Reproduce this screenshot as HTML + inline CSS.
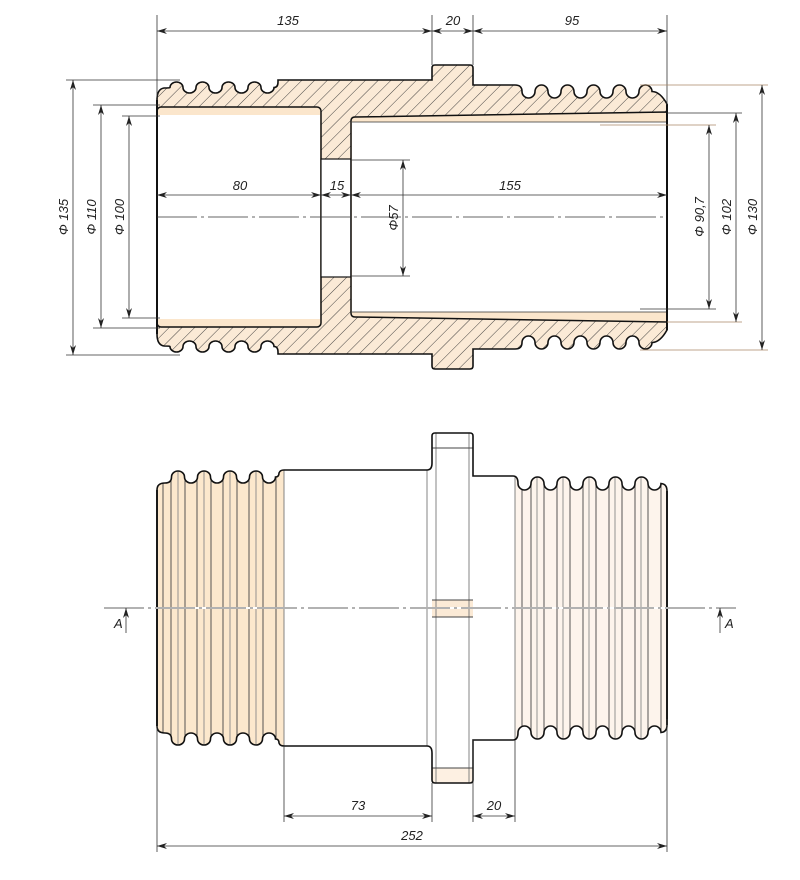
<!DOCTYPE html>
<html><head><meta charset="utf-8"><style>
html,body{margin:0;padding:0;background:#fff}
svg{display:block}
text{font-family:"Liberation Sans",sans-serif;font-style:italic;font-size:13px;fill:#222}
</style></head><body>
<svg width="800" height="880" viewBox="0 0 800 880" xmlns="http://www.w3.org/2000/svg">
<defs>
<pattern id="h" width="9" height="9" patternUnits="userSpaceOnUse" patternTransform="rotate(45)">
<line x1="0" y1="0" x2="0" y2="9" stroke="#333" stroke-width="0.9"/></pattern>
<marker id="a" viewBox="0 0 10 6" refX="10" refY="3" markerWidth="10" markerHeight="6" orient="auto-start-reverse" markerUnits="userSpaceOnUse">
<path d="M0,0 L10,3 L0,6 L3,3 Z" fill="#222"/></marker>
<path id="topH" d="M157,217 L157,100 Q157,89 164,88 Q170,88 170,87.5 a6.5,5.5 0 0 1 13,0 a6.5,5.5 0 0 0 13,0 a6.5,5.5 0 0 1 13,0 a6.5,5.5 0 0 0 13,0 a6.5,5.5 0 0 1 13,0 a6.5,5.5 0 0 0 13,0 a6.5,5.5 0 0 1 13,0 a6.5,5.5 0 0 0 13,0 Q278,87.5 278,82 L278,80 L432,80 L432,68 Q432,65 435,65 L470,65 Q473,65 473,68 L473,85 L515,85 Q522,85 522,91.5 a6.5,6.5 0 0 0 13,0 a6.5,6.5 0 0 1 13,0 a6.5,6.5 0 0 0 13,0 a6.5,6.5 0 0 1 13,0 a6.5,6.5 0 0 0 13,0 a6.5,6.5 0 0 1 13,0 a6.5,6.5 0 0 0 13,0 a6.5,6.5 0 0 1 13,0 a6.5,6.5 0 0 0 13,0 a6.5,6.5 0 0 1 13,0 Q660,91.5 667,104 L667,217 Z"/>
<path id="botH" d="M157,608 L157,490 Q157,483 165,483 Q171.5,483 171.5,477 a6.5,6 0 0 1 13,0 a6.5,6 0 0 0 13,0 a6.5,6 0 0 1 13,0 a6.5,6 0 0 0 13,0 a6.5,6 0 0 1 13,0 a6.5,6 0 0 0 13,0 a6.5,6 0 0 1 13,0 a6.5,6 0 0 0 13,0 Q279,477 279,473 Q280,470 284,470 L427,470 Q432,470 432,463 L432,436 Q432,433 435,433 L470,433 Q473,433 473,436 L473,476 L513,476 Q518,476 518,483.5 a6.5,6.5 0 0 0 13,0 a6.5,6.5 0 0 1 13,0 a6.5,6.5 0 0 0 13,0 a6.5,6.5 0 0 1 13,0 a6.5,6.5 0 0 0 13,0 a6.5,6.5 0 0 1 13,0 a6.5,6.5 0 0 0 13,0 a6.5,6.5 0 0 1 13,0 a6.5,6.5 0 0 0 13,0 a6.5,6.5 0 0 1 13,0 a6.5,6.5 0 0 0 13,0 Q667,484 667,491 L667,608 Z"/>
<clipPath id="cs"><use href="#topH"/><use href="#topH" transform="matrix(1 0 0 -1 0 434)"/></clipPath>
<clipPath id="cb"><use href="#botH"/><use href="#botH" transform="matrix(1 0 0 -1 0 1216)"/></clipPath>
</defs>

<!-- SECTION VIEW -->
<g clip-path="url(#cs)">
<rect x="150" y="60" width="530" height="320" fill="#fbead6"/>
<rect x="150" y="60" width="530" height="320" fill="url(#h)"/>
</g>
<g fill="none" stroke="#111" stroke-width="1.6">
<use href="#topH"/><use href="#topH" transform="matrix(1 0 0 -1 0 434)"/>
</g>
<rect x="157" y="107" width="164" height="220" rx="4" fill="#fbe6cc" stroke="#111" stroke-width="1.5"/>
<rect x="158" y="115" width="162" height="204" fill="#fff"/>
<rect x="321" y="159" width="30" height="118" fill="#fff" stroke="#111" stroke-width="1.2"/>
<path d="M351,121 Q351,117 355,117 L667,112 L667,322 L355,317 Q351,317 351,313 Z" fill="#fbe6cc" stroke="#111" stroke-width="1.5"/>
<rect x="352" y="122" width="314" height="190" fill="#fff"/>
<line x1="157" y1="100" x2="157" y2="334" stroke="#111" stroke-width="2"/>
<line x1="667" y1="104" x2="667" y2="330" stroke="#111" stroke-width="2"/>
<line x1="352" y1="122" x2="666" y2="122" stroke="#333" stroke-width="0.7"/>
<line x1="352" y1="312" x2="666" y2="312" stroke="#333" stroke-width="0.7"/>
<line x1="157" y1="217" x2="667" y2="217" stroke="#333" stroke-width="0.8" stroke-dasharray="40,4,3,4"/>

<g stroke="#333" stroke-width="0.8" fill="none">
<line x1="157" y1="15" x2="157" y2="98"/>
<line x1="432" y1="15" x2="432" y2="65"/>
<line x1="473" y1="15" x2="473" y2="65"/>
<line x1="667" y1="15" x2="667" y2="105"/>
<line x1="157" y1="31" x2="432" y2="31" marker-start="url(#a)" marker-end="url(#a)"/>
<line x1="432" y1="31" x2="473" y2="31" marker-start="url(#a)" marker-end="url(#a)"/>
<line x1="473" y1="31" x2="667" y2="31" marker-start="url(#a)" marker-end="url(#a)"/>
<line x1="66" y1="80" x2="180" y2="80"/>
<line x1="66" y1="355" x2="180" y2="355"/>
<line x1="93" y1="105" x2="160" y2="105"/>
<line x1="93" y1="328" x2="160" y2="328"/>
<line x1="122" y1="116" x2="160" y2="116"/>
<line x1="122" y1="318" x2="160" y2="318"/>
<line x1="73" y1="80" x2="73" y2="355" marker-start="url(#a)" marker-end="url(#a)"/>
<line x1="101" y1="105" x2="101" y2="328" marker-start="url(#a)" marker-end="url(#a)"/>
<line x1="129" y1="116" x2="129" y2="318" marker-start="url(#a)" marker-end="url(#a)"/>
<line x1="640" y1="85" x2="768" y2="85" stroke="#a86"/>
<line x1="640" y1="350" x2="768" y2="350" stroke="#a86"/>
<line x1="667" y1="113" x2="742" y2="113"/>
<line x1="667" y1="322" x2="742" y2="322" stroke="#a86"/>
<line x1="600" y1="125" x2="716" y2="125" stroke="#a86"/>
<line x1="640" y1="309" x2="716" y2="309"/>
<line x1="709" y1="125" x2="709" y2="309" marker-start="url(#a)" marker-end="url(#a)"/>
<line x1="736" y1="113" x2="736" y2="322" marker-start="url(#a)" marker-end="url(#a)"/>
<line x1="762" y1="85" x2="762" y2="350" marker-start="url(#a)" marker-end="url(#a)"/>
<line x1="157" y1="195" x2="321" y2="195" marker-start="url(#a)" marker-end="url(#a)"/>
<line x1="321" y1="195" x2="351" y2="195" marker-start="url(#a)" marker-end="url(#a)"/>
<line x1="351" y1="195" x2="667" y2="195" marker-start="url(#a)" marker-end="url(#a)"/>
<line x1="351" y1="160" x2="410" y2="160"/>
<line x1="351" y1="276" x2="410" y2="276"/>
<line x1="403" y1="160" x2="403" y2="276" marker-start="url(#a)" marker-end="url(#a)"/>
</g>
<text x="288" y="25" text-anchor="middle">135</text>
<text x="453" y="25" text-anchor="middle">20</text>
<text x="572" y="25" text-anchor="middle">95</text>
<text x="240" y="190" text-anchor="middle">80</text>
<text x="337" y="190" text-anchor="middle">15</text>
<text x="510" y="190" text-anchor="middle">155</text>
<text transform="translate(398,218) rotate(-90)" text-anchor="middle">Φ57</text>
<text transform="translate(68,217) rotate(-90)" text-anchor="middle">Φ 135</text>
<text transform="translate(96,217) rotate(-90)" text-anchor="middle">Φ 110</text>
<text transform="translate(124,217) rotate(-90)" text-anchor="middle">Φ 100</text>
<text transform="translate(704,217) rotate(-90)" text-anchor="middle">Φ 90,7</text>
<text transform="translate(731,217) rotate(-90)" text-anchor="middle">Φ 102</text>
<text transform="translate(757,217) rotate(-90)" text-anchor="middle">Φ 130</text>

<!-- BOTTOM VIEW -->
<g clip-path="url(#cb)">
<rect x="150" y="420" width="530" height="380" fill="#fff"/>
<rect x="150" y="420" width="134" height="380" fill="#fce8cd"/>
<rect x="515" y="420" width="160" height="380" fill="#fdf4ec"/>
<rect x="432" y="600" width="41" height="17" fill="#fbead6"/>
<rect x="432" y="768" width="41" height="15" fill="#fdf0e2"/>
<g stroke="#444" stroke-width="0.9">
<line x1="163" y1="420" x2="163" y2="800"/>
<line x1="171" y1="420" x2="171" y2="800"/>
<line x1="178" y1="420" x2="178" y2="800" stroke="#888"/>
<line x1="185" y1="420" x2="185" y2="800"/>
<line x1="197" y1="420" x2="197" y2="800"/>
<line x1="204" y1="420" x2="204" y2="800" stroke="#888"/>
<line x1="211" y1="420" x2="211" y2="800"/>
<line x1="223" y1="420" x2="223" y2="800"/>
<line x1="230" y1="420" x2="230" y2="800" stroke="#888"/>
<line x1="237" y1="420" x2="237" y2="800"/>
<line x1="249" y1="420" x2="249" y2="800"/>
<line x1="256" y1="420" x2="256" y2="800" stroke="#888"/>
<line x1="263" y1="420" x2="263" y2="800"/>
<line x1="276" y1="420" x2="276" y2="800"/>
<line x1="284" y1="420" x2="284" y2="800" stroke="#777"/>
<line x1="427" y1="420" x2="427" y2="800" stroke="#777"/>
<line x1="436" y1="420" x2="436" y2="800" stroke="#777"/>
<line x1="469" y1="420" x2="469" y2="800" stroke="#777"/>
<line x1="515" y1="420" x2="515" y2="800" stroke="#777"/>
<line x1="522" y1="420" x2="522" y2="800"/>
<line x1="531" y1="420" x2="531" y2="800"/>
<line x1="537" y1="420" x2="537" y2="800" stroke="#888"/>
<line x1="544" y1="420" x2="544" y2="800"/>
<line x1="557" y1="420" x2="557" y2="800"/>
<line x1="563" y1="420" x2="563" y2="800" stroke="#888"/>
<line x1="570" y1="420" x2="570" y2="800"/>
<line x1="583" y1="420" x2="583" y2="800"/>
<line x1="589" y1="420" x2="589" y2="800" stroke="#888"/>
<line x1="596" y1="420" x2="596" y2="800"/>
<line x1="609" y1="420" x2="609" y2="800"/>
<line x1="615" y1="420" x2="615" y2="800" stroke="#888"/>
<line x1="622" y1="420" x2="622" y2="800"/>
<line x1="635" y1="420" x2="635" y2="800"/>
<line x1="641" y1="420" x2="641" y2="800" stroke="#888"/>
<line x1="648" y1="420" x2="648" y2="800"/>
<line x1="661" y1="420" x2="661" y2="800"/>
<line x1="432" y1="448" x2="473" y2="448"/>
<line x1="432" y1="768" x2="473" y2="768"/>
<line x1="432" y1="600" x2="473" y2="600"/>
<line x1="432" y1="617" x2="473" y2="617"/>
</g>
</g>
<g fill="none" stroke="#111" stroke-width="1.6">
<use href="#botH"/><use href="#botH" transform="matrix(1 0 0 -1 0 1216)"/>
</g>
<line x1="157" y1="490" x2="157" y2="726" stroke="#111" stroke-width="1.8"/>
<line x1="667" y1="491" x2="667" y2="725" stroke="#111" stroke-width="1.8"/>
<line x1="104" y1="608" x2="736" y2="608" stroke="#fff" stroke-width="2"/>
<line x1="104" y1="608" x2="736" y2="608" stroke="#333" stroke-width="0.8" stroke-dasharray="40,4,3,4"/>

<g stroke="#333" stroke-width="0.8" fill="none">
<line x1="157" y1="726" x2="157" y2="852"/>
<line x1="667" y1="719" x2="667" y2="852"/>
<line x1="284" y1="746" x2="284" y2="822"/>
<line x1="432" y1="783" x2="432" y2="822"/>
<line x1="473" y1="740" x2="473" y2="822"/>
<line x1="515" y1="740" x2="515" y2="822"/>
<line x1="284" y1="816" x2="432" y2="816" marker-start="url(#a)" marker-end="url(#a)"/>
<line x1="473" y1="816" x2="515" y2="816" marker-start="url(#a)" marker-end="url(#a)"/>
<line x1="157" y1="846" x2="667" y2="846" marker-start="url(#a)" marker-end="url(#a)"/>
<line x1="126" y1="633" x2="126" y2="608" marker-end="url(#a)"/>
<line x1="720" y1="633" x2="720" y2="608" marker-end="url(#a)"/>
</g>
<text x="358" y="810" text-anchor="middle">73</text>
<text x="494" y="810" text-anchor="middle">20</text>
<text x="412" y="840" text-anchor="middle">252</text>
<text x="114" y="628">A</text>
<text x="725" y="628">A</text>
</svg>
</body></html>
